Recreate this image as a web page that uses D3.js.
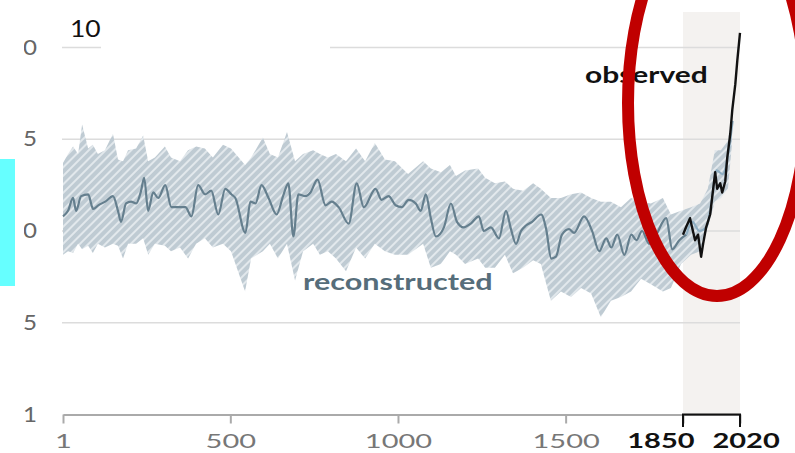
<!DOCTYPE html>
<html>
<head>
<meta charset="utf-8">
<script src="https://cdn.jsdelivr.net/npm/d3@7"></script>
<style>
  body { margin: 0; background: #fff; }
  svg { display: block; font-family: Lato, "Open Sans", sans-serif; }
</style>
</head>
<body>
<svg id="chart" width="795" height="453"></svg>
<script>
// reconstructed temperature (smoothed)
const reconYears = [
    1, 16, 31, 40, 55, 76, 91, 106, 127, 150,
    165, 174, 189, 204, 219, 234, 243, 255, 270, 285,
    306, 324, 345, 366, 384, 404, 425, 443, 464, 485,
    503, 515, 545, 560, 575, 593, 614, 638, 659, 673,
    688, 703, 724, 739, 760, 784, 802, 823, 853, 877,
    898, 933, 951, 972, 993, 1011, 1032, 1053, 1068, 1083,
    1098, 1113, 1137, 1158, 1176, 1196, 1217, 1241, 1256, 1277,
    1301, 1322, 1337, 1352, 1367, 1382, 1400, 1427, 1442, 1457,
    1471, 1489, 1510, 1525, 1555, 1579, 1600, 1621, 1636, 1654,
    1675, 1696, 1711, 1728, 1749, 1770, 1800, 1818, 1839, 1860,
    1878, 1899, 1920, 1935, 1950, 1968, 1983, 1998
];
const reconTemp = [
    .08, .11, .18, .11, .19, .20, .12, .14, .16, .19,
    .11, .05, .15, .16, .15, .22, .29, .11, .21, .18,
    .25, .13, .13, .13, .08, .25, .20, .22, .09, .23,
    .20, .18, -.01, .16, .15, .25, .18, .09, .20, .26,
    -.03, .20, .19, .21, .28, .14, .16, .13, .04, .26,
    .13, .23, .17, .19, .14, .13, .17, .15, .11, .20,
    .07, -.03, .02, .15, .05, .02, .04, .08, 0, .02,
    -.04, .11, .01, -.07, 0, .03, .05, .09, .01, -.15,
    -.14, -.02, .01, -.01, .08, 0, -.11, -.04, -.09, -.02,
    -.13, -.02, -.05, 0, -.07, -.02, .07, -.10, -.05, -.02,
    .05, 0, .02, .16, .33, .31, .40, .60
];

// very likely range of the reconstruction
const bandYears = [
    1, 16, 31, 46, 58, 76, 90, 105, 126, 150,
    165, 180, 195, 219, 240, 255, 275, 305, 323, 350,
    374, 398, 424, 448, 478, 502, 544, 562, 597, 618,
    642, 669, 693, 717, 747, 767, 791, 815, 845, 875,
    902, 931, 961, 991, 1030, 1075, 1098, 1128, 1155, 1173,
    1200, 1239, 1260, 1289, 1319, 1343, 1373, 1403, 1426, 1456,
    1486, 1516, 1546, 1576, 1605, 1635, 1665, 1695, 1725, 1754,
    1790, 1814, 1844, 1874, 1901, 1924, 1945, 1963, 1984, 1996
];
const bandHi = [
    .37, .42, .46, .42, .58, .45, .47, .42, .44, .53,
    .39, .38, .44, .45, .52, .38, .40, .46, .40, .38,
    .44, .46, .45, .40, .47, .45, .36, .40, .51, .42,
    .40, .54, .38, .42, .44, .42, .40, .42, .38, .45,
    .38, .48, .39, .38, .31, .38, .34, .32, .36, .30,
    .33, .34, .29, .26, .27, .23, .22, .26, .23, .18,
    .18, .20, .21, .18, .16, .16, .13, .18, .16, .15,
    .18, .09, .11, .13, .15, .23, .44, .44, .49, .65
];
const bandLo = [
    -.13, -.11, -.12, -.07, -.10, -.08, -.12, -.07, -.09, -.07,
    -.08, -.15, -.07, -.07, -.04, -.13, -.07, -.08, -.11, -.09,
    -.15, -.07, -.04, -.09, -.07, -.11, -.33, -.15, -.11, -.07,
    -.15, -.07, -.27, -.11, -.07, -.13, -.11, -.15, -.22, -.09,
    -.15, -.07, -.11, -.13, -.13, -.07, -.20, -.18, -.11, -.13,
    -.18, -.15, -.20, -.20, -.13, -.23, -.20, -.16, -.18, -.38,
    -.33, -.36, -.31, -.34, -.47, -.38, -.36, -.33, -.26, -.29,
    -.33, -.31, -.18, -.13, -.11, .02, .16, .18, .23, .47
];

// observed
const obsYears = [1850, 1859, 1871, 1877, 1886, 1895, 1904, 1910, 1919, 1931,
    1940, 1946, 1952, 1961, 1967, 1976, 1982, 1991, 1997, 2006, 2012, 2020];
const obsTemp = [-.02, .02, .07, .02, -.05, -.02, -.14, -.07, .02, .09,
    .23, .32, .23, .26, .21, .27, .40, .53, .66, .80, .93, 1.08];

const xTicks = [1, 500, 1000, 1500, 1850, 2020];
const yTicks = [1, 0.5, 0, -0.5, -1];
const yTickLabels = ['1.0', '0.5', '0', '-0.5', '-1'];

const svg = d3.select('#chart');
const x = d3.scaleLinear().domain([1, 2020]).range([63, 740]);
const y = d3.scaleLinear().domain([-1, 1]).range([414.5, 47.5]);

const defs = svg.append('defs');
const hatch = defs.append('pattern')
    .attr('id', 'hatch')
    .attr('patternUnits', 'userSpaceOnUse')
    .attr('width', 6)
    .attr('height', 6)
    .attr('patternTransform', 'rotate(45)');
hatch.append('rect').attr('width', 6).attr('height', 6).attr('fill', '#bfcbd3');
hatch.append('line')
    .attr('x1', 1).attr('y1', 0).attr('x2', 1).attr('y2', 6)
    .attr('stroke', '#e9eef1').attr('stroke-width', 1.7);

defs.append('clipPath').attr('id', 'yclip')
    .append('rect').attr('x', 24).attr('y', 0).attr('width', 40).attr('height', 453);

// 1850-2020 shading
svg.append('rect')
    .attr('x', x(1850))
    .attr('y', 12)
    .attr('width', x(2020) - x(1850))
    .attr('height', y(-1) - 12)
    .attr('fill', '#f4f2f0');

// gridlines
svg.append('g').selectAll('line')
    .data(yTicks.filter(d => d > -1))
    .join('line')
    .attr('x1', 62).attr('x2', x(2020))
    .attr('y1', d => y(d)).attr('y2', d => y(d))
    .attr('stroke', '#dcdcdc').attr('stroke-width', 1.5);

// y labels (cut off at the left, as in the picture)
svg.append('g').attr('clip-path', 'url(#yclip)')
    .selectAll('text')
    .data(yTicks)
    .join('text')
    .attr('transform', d => `translate(37,${y(d) + 7}) scale(1.15,1)`)
    .attr('text-anchor', 'end')
    .attr('font-size', 21)
    .attr('fill', '#666')
    .text((d, i) => yTickLabels[i]);

// reconstruction band + line
svg.append('path')
    .datum(d3.range(bandYears.length))
    .attr('d', d3.area()
        .x(i => x(bandYears[i]))
        .y0(i => y(bandLo[i]))
        .y1(i => y(bandHi[i])))
    .attr('fill', 'url(#hatch)');

const reconLine = d3.line()
    .curve(d3.curveMonotoneX)
    .x(i => x(reconYears[i]))
    .y(i => y(reconTemp[i]));
const allIdx = d3.range(reconYears.length);

svg.append('path')
    .datum(allIdx.filter(i => reconYears[i] <= 1860))
    .attr('d', reconLine)
    .attr('fill', 'none')
    .attr('stroke', '#657f8e')
    .attr('stroke-width', 2.2)
    .attr('stroke-linejoin', 'round');

svg.append('path')
    .datum(allIdx.filter(i => reconYears[i] >= 1860))
    .attr('d', reconLine)
    .attr('fill', 'none')
    .attr('stroke', '#8eaec2')
    .attr('stroke-width', 2.2)
    .attr('stroke-linejoin', 'round');

svg.append('path')
    .datum(d3.range(obsYears.length))
    .attr('d', d3.line()
        .x(i => x(obsYears[i]))
        .y(i => y(obsTemp[i])))
    .attr('fill', 'none')
    .attr('stroke', '#111')
    .attr('stroke-width', 2.4)
    .attr('stroke-linejoin', 'round');

// x axis
const xAxis = svg.append('g')
    .attr('transform', `translate(0,${y(-1)})`)
    .call(d3.axisBottom(x).tickValues(xTicks).tickSize(9).tickSizeOuter(0).tickFormat(d3.format('d')))
    .attr('font-family', 'Lato, sans-serif')
    .attr('font-size', 20);
xAxis.select('.domain').attr('stroke', '#aaa').attr('stroke-width', 2);
xAxis.selectAll('.tick line').attr('stroke', '#aaa').attr('stroke-width', 2);
xAxis.selectAll('.tick text')
    .attr('y', 33.5)
    .attr('dy', 0)
    .attr('fill', '#777')
    .attr('transform', 'scale(1.45,1)');
xAxis.selectAll('.tick text')
    .filter(d => d >= 1850)
    .attr('fill', '#111')
    .attr('font-weight', 700)
    .attr('text-anchor', d => d === 1850 ? 'end' : 'start')
    .attr('transform', d => d === 1850 ? 'translate(11,0) scale(1.45,1)' : 'translate(-28,0) scale(1.45,1)');

// bracket under 1850-2020
svg.append('path')
    .attr('d', `M${x(1850)},${y(-1) + 12.5}V${y(-1)}H${x(2020)}V${y(-1) + 12.5}`)
    .attr('fill', 'none')
    .attr('stroke', '#111')
    .attr('stroke-width', 2);

// labels
svg.append('text')
    .attr('transform', 'translate(303,290) scale(1.33,1)')
    .attr('font-size', 23)
    .attr('font-weight', 700)
    .attr('fill', '#566d7a')
    .text('reconstructed');

svg.append('text')
    .attr('transform', 'translate(585,83) scale(1.36,1)')
    .attr('font-size', 22)
    .attr('font-weight', 700)
    .attr('fill', '#111')
    .text('observed');

// white patch over top and leftover title digits
svg.append('rect').attr('x', 101).attr('y', 0).attr('width', 229).attr('height', 52).attr('fill', '#fff');
svg.append('text')
    .attr('transform', 'translate(70,37) scale(1.15,1)')
    .attr('font-size', 23)
    .attr('fill', '#111')
    .text('10');

// cyan marker on the left
svg.append('rect').attr('x', 0).attr('y', 159).attr('width', 15).attr('height', 127).attr('fill', '#66ffff');

// red ellipse highlighting recent warming
svg.append('ellipse')
    .attr('cx', 717).attr('cy', 103)
    .attr('rx', 89).attr('ry', 193)
    .attr('fill', 'none')
    .attr('stroke', '#c00000')
    .attr('stroke-width', 12);
</script>
</body>
</html>
